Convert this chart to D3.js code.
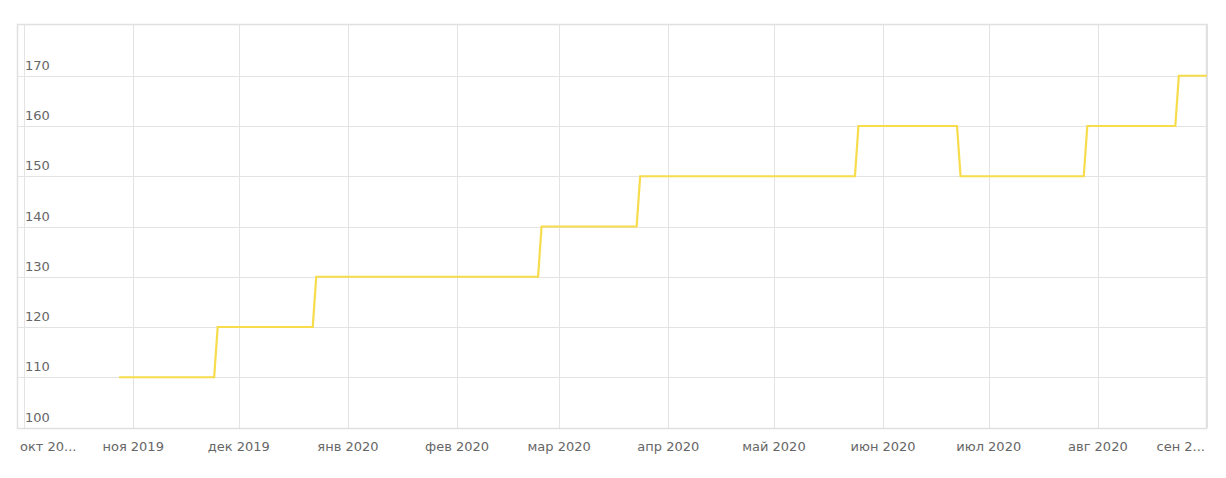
<!DOCTYPE html>
<html><head><meta charset="utf-8">
<script src="https://cdn.jsdelivr.net/npm/d3@7"></script>
<style>html,body{margin:0;padding:0;background:#fff;}svg{display:block;}</style>
</head><body><svg id="c" width="1226" height="478"></svg>
<script>
const pointDates = ["2019-10-28","2019-11-24","2019-11-25","2019-12-22","2019-12-23","2020-02-24","2020-02-25","2020-03-23","2020-03-24","2020-05-24","2020-05-25","2020-06-22","2020-06-23","2020-07-28","2020-07-29","2020-08-23","2020-08-24","2020-09-01"];
const pointValues = [110,110,120,120,130,130,140,140,150,150,160,160,150,150,160,160,170,170];
const monthTicks = ["2019-10-01","2019-11-01","2019-12-01","2020-01-01","2020-02-01","2020-03-01","2020-04-01","2020-05-01","2020-06-01","2020-07-01","2020-08-01","2020-09-01"];
const monthLabels = ["окт 20...","ноя 2019","дек 2019","янв 2020","фев 2020","мар 2020","апр 2020","май 2020","июн 2020","июл 2020","авг 2020","сен 2..."];
const yTicks = [100,110,120,130,140,150,160,170];

const parse = d3.utcParse("%Y-%m-%d");
const svg = d3.select("#c");
const L = 17, R = 1207, T = 24, B = 428;
const x = d3.scaleUtc().domain([parse("2019-09-29"), parse("2020-09-01")]).range([L, R]);
const y = d3.scaleLinear().domain([100, 180]).range([427.5, 25.5]);
const font = "DejaVu Sans, Verdana, sans-serif";
const grid = "#e3e3e3";

// horizontal grid
svg.append("g").selectAll("line").data(yTicks).join("line")
  .attr("x1", L).attr("x2", R)
  .attr("y1", d => Math.round(y(d)) + 0.5).attr("y2", d => Math.round(y(d)) + 0.5)
  .attr("stroke", grid).attr("stroke-width", 1);
// vertical grid
svg.append("g").selectAll("line").data(monthTicks).join("line")
  .attr("x1", d => Math.round(x(parse(d))) + 0.5).attr("x2", d => Math.round(x(parse(d))) + 0.5)
  .attr("y1", T).attr("y2", B)
  .attr("stroke", grid).attr("stroke-width", 1);
// border
svg.append("rect").attr("x", L + 0.5).attr("y", T + 0.5).attr("width", R - L - 1).attr("height", B - T)
  .attr("fill", "none").attr("stroke", "#e0e0e0").attr("stroke-width", 1.5);

// y labels
svg.append("g").selectAll("text").data(yTicks).join("text")
  .attr("x", 25).attr("y", d => y(d) - 6)
  .attr("font-family", font).attr("font-size", 13).attr("fill", "#666")
  .text(d => d);

// x labels
svg.append("g").selectAll("text").data(monthTicks).join("text")
  .attr("font-family", font).attr("font-size", 13).attr("fill", "#666")
  .attr("y", 451)
  .text((d, i) => monthLabels[i])
  .each(function(d) {
    const w = this.getComputedTextLength();
    const cx = x(parse(d));
    const t = d3.select(this);
    if (cx - w / 2 < L) { t.attr("x", 20).attr("text-anchor", "start"); }
    else if (cx + w / 2 > R) { t.attr("x", 1205).attr("text-anchor", "end"); }
    else { t.attr("x", cx).attr("text-anchor", "middle"); }
  });

// line
const pts = pointDates.map((d, i) => [parse(d), pointValues[i]]);
svg.append("path").datum(pts)
  .attr("fill", "none").attr("stroke", "#f7dc4c").attr("stroke-width", 2.2)
  .attr("stroke-linejoin", "miter")
  .attr("d", d3.line().x(d => x(d[0])).y(d => y(d[1])));
</script></body></html>
